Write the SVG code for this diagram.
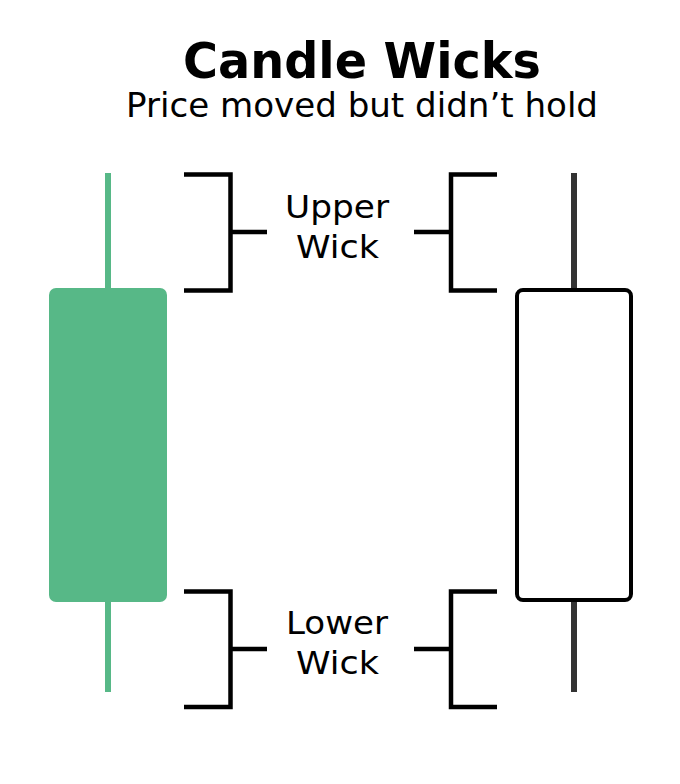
<svg xmlns="http://www.w3.org/2000/svg" width="680" height="784" viewBox="0 0 680 784">
<style>
.t{font-family:"DejaVu Sans","Open Sans",sans-serif;fill:#000;text-anchor:middle}
.l{font-size:32px}
.br{fill:none;stroke:#000;stroke-width:4.5}
</style>
<rect width="680" height="784" fill="#fff"/>
<g id="title">
<text class="t" x="362" y="78" font-size="50" font-weight="bold" textLength="358" lengthAdjust="spacingAndGlyphs">Candle Wicks</text>
<text class="t" x="362" y="117" font-size="33" textLength="472" lengthAdjust="spacingAndGlyphs">Price moved but didn’t hold</text>
</g>
<g id="green-candle">
<line x1="108" y1="173" x2="108" y2="692" stroke="#57b887" stroke-width="6"/>
<rect x="49" y="288" width="118" height="314" rx="7" fill="#57b887"/>
</g>
<g id="white-candle">
<line x1="574" y1="173" x2="574" y2="692" stroke="#333" stroke-width="6"/>
<rect x="517" y="290" width="114" height="310" rx="6" fill="#fff" stroke="#000" stroke-width="4"/>
</g>
<g id="connectors">
<path class="br" d="M184 174.5H230.5V290.5H184M230.5 232H267"/>
<path class="br" d="M497 174.5H451V290.5H497M451 232H414"/>
<path class="br" d="M184 591.5H230.5V707H184M230.5 649H267"/>
<path class="br" d="M497 591.5H451V707H497M451 649H414"/>
</g>
<g id="upper-label">
<text class="t l" x="337" y="218" textLength="104" lengthAdjust="spacingAndGlyphs">Upper</text>
<text class="t l" x="337.5" y="258" textLength="83" lengthAdjust="spacingAndGlyphs">Wick</text>
</g>
<g id="lower-label">
<text class="t l" x="337" y="634" textLength="102" lengthAdjust="spacingAndGlyphs">Lower</text>
<text class="t l" x="337.5" y="674" textLength="83" lengthAdjust="spacingAndGlyphs">Wick</text>
</g>
</svg>
